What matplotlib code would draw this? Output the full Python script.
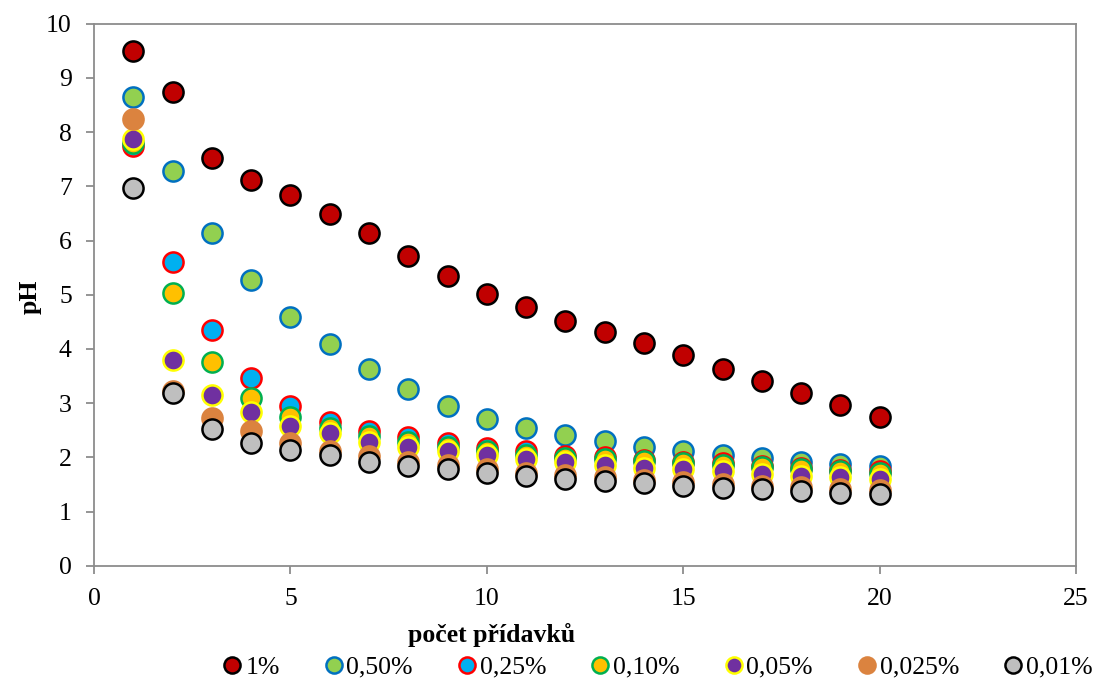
"""
Titrace - pH v závislosti na počtu přídavků pro různé koncentrace.
"""

import matplotlib.pyplot as plt

plt.rcParams["font.family"] = ["Liberation Serif", "DejaVu Serif"]

pridavky = list(range(1, 21))

ph_1 = [9.50, 8.73, 7.53, 7.12, 6.84, 6.49, 6.13, 5.72, 5.35, 5.02,
        4.78, 4.52, 4.32, 4.11, 3.89, 3.63, 3.41, 3.19, 2.97, 2.75]
ph_050 = [8.65, 7.29, 6.13, 5.28, 4.58, 4.10, 3.63, 3.27, 2.95, 2.71,
          2.55, 2.42, 2.31, 2.20, 2.12, 2.05, 1.99, 1.92, 1.88, 1.85]
ph_025 = [7.75, 5.60, 4.35, 3.46, 2.94, 2.66, 2.48, 2.37, 2.26, 2.18,
          2.11, 2.03, 2.00, 1.96, 1.92, 1.89, 1.85, 1.81, 1.77, 1.74]
ph_010 = [7.80, 5.03, 3.76, 3.10, 2.75, 2.54, 2.39, 2.29, 2.20, 2.12,
          2.05, 1.99, 1.97, 1.93, 1.89, 1.86, 1.82, 1.78, 1.74, 1.71]
ph_005 = [7.88, 3.80, 3.15, 2.83, 2.58, 2.45, 2.29, 2.20, 2.12, 2.05,
          1.97, 1.92, 1.86, 1.81, 1.78, 1.74, 1.69, 1.66, 1.63, 1.61]
ph_0025 = [8.25, 3.22, 2.72, 2.48, 2.26, 2.11, 2.02, 1.92, 1.86, 1.78,
           1.72, 1.67, 1.64, 1.59, 1.55, 1.51, 1.48, 1.45, 1.42, 1.40]
ph_001 = [6.96, 3.19, 2.52, 2.27, 2.13, 2.05, 1.92, 1.85, 1.78, 1.71,
          1.65, 1.60, 1.57, 1.53, 1.48, 1.44, 1.41, 1.38, 1.35, 1.33]

labels = ["1%", "0,50%", "0,25%", "0,10%", "0,05%", "0,025%", "0,01%"]
series = [ph_1, ph_050, ph_025, ph_010, ph_005, ph_0025, ph_001]
# (fill, edge)
styles = [
    ("#C00000", "#000000"),
    ("#92D050", "#0070C0"),
    ("#00B0F0", "#FF0000"),
    ("#FFC000", "#00B050"),
    ("#7030A0", "#FFFF00"),
    ("#DB833F", "#DB833F"),
    ("#BFBFBF", "#000000"),
]

fig = plt.figure(figsize=(10.93, 6.85), dpi=100)
ax = fig.add_axes([0.086, 0.174, 0.8985, 0.7915])

for vals, lab, (fc, ec) in zip(series, labels, styles):
    ax.plot(pridavky, vals, ls="none", marker="o", ms=14.5,
            mfc=fc, mec=ec, mew=1.8, label=lab)

ax.set_xlim(0, 25)
ax.set_ylim(0, 10)
ax.set_xticks(range(0, 26, 5))
ax.set_yticks(range(0, 11))
for s in ax.spines.values():
    s.set_color("#8C8C8C")
    s.set_linewidth(1.3)
ax.tick_params(direction="out", length=6, width=1.3, color="#8C8C8C",
               labelsize=18.5, pad=10, labelcolor="black")

fig.text(30 / 1093, 1 - 297 / 685, "pH", rotation=90, ha="center",
         va="center", fontsize=18.5, fontweight="bold")
fig.text(492 / 1093, 1 - 635 / 685, "počet přídavků", ha="center",
         va="center", fontsize=18.5, fontweight="bold")

fig.legend(loc="center", bbox_to_anchor=(0.602, 0.026), ncol=7,
           frameon=False, fontsize=18.5, markerscale=0.8,
           handlelength=0.7, handletextpad=0.15, columnspacing=1.75)

fig.savefig("out.png", dpi=100)
